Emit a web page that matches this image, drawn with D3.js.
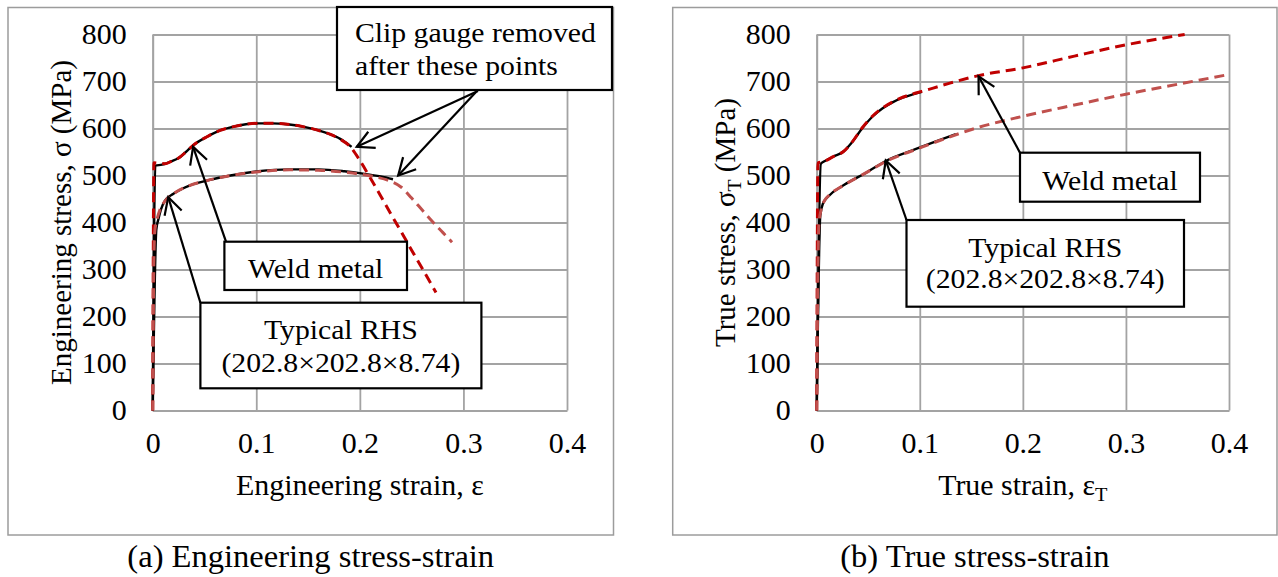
<!DOCTYPE html>
<html>
<head>
<meta charset="utf-8">
<script src="https://cdn.jsdelivr.net/npm/d3@7"></script>
<style>
  body { margin: 0; background: #fff; }
  svg { display: block; }
  text { font-family: "Liberation Serif", "Times New Roman", serif; fill: #000; }
</style>
</head>
<body>
<svg id="fig" width="1278" height="577"></svg>
<script>
// ---- axis ticks ----
const strainTicks = [0, 0.1, 0.2, 0.3, 0.4];
const strainTickLabels = ["0", "0.1", "0.2", "0.3", "0.4"];
const stressTicks = [0, 100, 200, 300, 400, 500, 600, 700, 800];
const stressTickLabels = ["0", "100", "200", "300", "400", "500", "600", "700", "800"];

// ---- engineering stress-strain [strain, stress MPa] ----
const engWeldTest = [[0,0],[0.0025,521],[0.009,523],[0.018,530],[0.025,537],[0.032,550],[0.039,564],
  [0.052,582],[0.065,596],[0.078,604],[0.09,609],[0.102,611],[0.115,611],[0.13,609],[0.145,604],
  [0.16,596],[0.171,588],[0.181,578],[0.192,561]];
const engWeldModel = [[0,0],[0.0012,527],[0.006,526],[0.012,525],[0.018,530],[0.025,537],[0.032,550],
  [0.039,564],[0.052,582],[0.065,596],[0.078,604],[0.09,609],[0.102,611],[0.115,611],[0.13,609],
  [0.145,604],[0.16,596],[0.171,588],[0.181,577],[0.19,563],[0.2,532],[0.21,495],[0.22,457],
  [0.23,418],[0.24,380],[0.25,341],[0.26,303],[0.2735,251]];
const engRhsTest = [[0,0],[0.0035,385],[0.0055,407],[0.008,428],[0.012,447],[0.02,461],[0.036,479],
  [0.052,489],[0.075,500],[0.102,509],[0.132,513],[0.16,513],[0.185,509],[0.203,504],[0.22,498],
  [0.232,492]];
const engRhsModel = [[0,0],[0.001,300],[0.002,380],[0.004,405],[0.007,427],[0.012,446],[0.02,461],
  [0.036,479],[0.052,489],[0.075,500],[0.102,508],[0.132,512],[0.16,511],[0.185,507],[0.203,502],
  [0.215,497],[0.228,489],[0.24,475],[0.25,452],[0.26,427],[0.27,402],[0.28,379],[0.289,358]];

// ---- true stress-strain [strain, stress MPa] ----
const trueWeldTest = [[0,0],[0.004,525],[0.008,531],[0.016,540],[0.026,551],[0.034,570],[0.044,600],
  [0.054,625],[0.064,643],[0.074,656],[0.084,666],[0.094,673],[0.102,678]];
const trueWeldModel = [[0,0],[0.0012,527],[0.006,529],[0.016,540],[0.026,551],[0.034,570],[0.044,601],
  [0.054,626],[0.064,644],[0.074,657],[0.084,667],[0.094,674],[0.102,679],[0.113,686],[0.13,697],
  [0.158,713],[0.2,729],[0.25,754],[0.3,778],[0.357,800]];
const trueRhsTest = [[0,0],[0.0035,415],[0.006,440],[0.012,457],[0.026,479],[0.048,506],[0.068,532],
  [0.097,557],[0.115,572],[0.135,588]];
const trueRhsModel = [[0,0],[0.0012,300],[0.002,390],[0.004,425],[0.008,448],[0.012,458],[0.026,479],
  [0.048,506],[0.068,531],[0.097,556],[0.12,575],[0.158,603],[0.2,626],[0.25,650],[0.3,673],
  [0.35,694],[0.4,715]];

const svg = d3.select("#fig");
const GRID = "#a3a3a3";
const FRAME = "#9c9c9c";
const STRETCH = 1.05;   // slightly widened serif lettering

const panels = [
  {
    frame: [8, 7.5, 613.5, 535],
    plot: [152.7, 34.5, 567, 410.5],
    xTitle: [{t: "Engineering strain, ε"}],
    yTitle: [{t: "Engineering stress, σ (MPa)"}],
    caption: "(a) Engineering stress-strain",
    series: [
      {data: engWeldTest, color: "#000", width: 2.4},
      {data: engRhsTest, color: "#000", width: 2.4},
      {data: engWeldModel, color: "#c00000", width: 3, dash: "10,6"},
      {data: engRhsModel, color: "#c0504d", width: 3, dash: "10,6"}
    ],
    notes: [
      {box: [337, 7, 612, 90], anchor: "start", tx: 355, lines: ["Clip gauge removed", "after these points"], baselines: [42, 75],
       arrows: [{tip: [0.197, 561], tail: [478, 91]}, {tip: [0.237, 500], tail: [476, 92]}]},
      {box: [224.4, 241.7, 407, 290], anchor: "middle", lines: ["Weld metal"], baselines: [278],
       arrows: [{tip: [0.039, 561], tail: [226, 241.7]}]},
      {box: [200.4, 302.7, 481.4, 388.3], anchor: "middle", lines: ["Typical RHS", "(202.8×202.8×8.74)"], baselines: [339.3, 371.7],
       arrows: [{tip: [0.015, 454], tail: [200.4, 302.7]}]}
    ]
  },
  {
    frame: [672.7, 7.5, 1277, 535],
    plot: [816.7, 34.5, 1229, 410.5],
    xTitle: [{t: "True strain, ε"}, {t: "T", sub: true}],
    yTitle: [{t: "True stress, σ"}, {t: "T", sub: true}, {t: " (MPa)", up: true}],
    caption: "(b) True stress-strain",
    series: [
      {data: trueWeldTest, color: "#000", width: 2.4},
      {data: trueRhsTest, color: "#000", width: 2.4},
      {data: trueWeldModel, color: "#c00000", width: 3, dash: "10,6"},
      {data: trueRhsModel, color: "#c0504d", width: 3, dash: "10,6"}
    ],
    notes: [
      {box: [1020, 152.7, 1200, 201.7], anchor: "middle", lines: ["Weld metal"], baselines: [190],
       arrows: [{tip: [0.157, 711], tail: [1020, 152.7]}]},
      {box: [906.5, 220, 1184, 306.7], anchor: "middle", lines: ["Typical RHS", "(202.8×202.8×8.74)"], baselines: [256.7, 288.3],
       arrows: [{tip: [0.067, 532], tail: [906.5, 220]}]}
    ]
  }
];

// text with optional subscript pieces
function addRich(sel, parts, size) {
  parts.forEach(p => {
    const ts = sel.append("tspan").text(p.t);
    if (p.sub) ts.attr("font-size", size * 0.68).attr("dy", size * 0.22);
    if (p.up) ts.attr("dy", -size * 0.22);
  });
}

// horizontal text placed at (x, y) and widened about its anchor point
function hText(g, x, y, size, anchor) {
  return g.append("text")
    .attr("transform", `translate(${x},${y}) scale(${STRETCH},1)`)
    .attr("text-anchor", anchor).attr("font-size", size);
}

panels.forEach(P => {
  const [px0, py0, px1, py1] = P.plot;
  const x = d3.scaleLinear().domain([0, 0.4]).range([px0, px1]);
  const y = d3.scaleLinear().domain([0, 800]).range([py1, py0]);
  const g = svg.append("g");

  // outer frame
  g.append("rect")
    .attr("x", P.frame[0]).attr("y", P.frame[1])
    .attr("width", P.frame[2] - P.frame[0]).attr("height", P.frame[3] - P.frame[1])
    .attr("fill", "none").attr("stroke", FRAME).attr("stroke-width", 1.5);

  // axes with full-length ticks forming the grid
  const xAxis = d3.axisBottom(x).tickValues(strainTicks)
    .tickFormat((d, i) => strainTickLabels[i])
    .tickSize(-(py1 - py0)).tickSizeOuter(0).tickPadding(22.5);
  const yAxis = d3.axisLeft(y).tickValues(stressTicks)
    .tickFormat((d, i) => stressTickLabels[i])
    .tickSize(-(px1 - px0)).tickSizeOuter(0).tickPadding(26);

  const gx = g.append("g").attr("transform", `translate(0,${py1})`).call(xAxis);
  const gy = g.append("g").attr("transform", `translate(${px0},0)`).call(yAxis);
  [gx, gy].forEach(a => {
    a.selectAll("line").attr("stroke", GRID).attr("stroke-width", 1.8);
    a.select(".domain").attr("stroke", GRID).attr("stroke-width", 1.8);
    a.selectAll("text").attr("font-size", 28.5).attr("fill", "#000")
      .style("font-family", '"Liberation Serif","Times New Roman",serif')
      .attr("transform", function () {
        const tx = +this.getAttribute("x") || 0;
        return `translate(${tx},0) scale(${STRETCH},1) translate(${-tx},0)`;
      });
  });

  // curves: measured (solid black) underneath, fitted/extended (dashed red) on top
  const line = d3.line().x(d => x(d[0])).y(d => y(d[1])).curve(d3.curveMonotoneX);
  P.series.forEach(s => {
    g.append("path").datum(s.data)
      .attr("d", line)
      .attr("fill", "none")
      .attr("stroke", s.color)
      .attr("stroke-width", s.width)
      .attr("stroke-dasharray", s.dash || null)
      .attr("stroke-linejoin", "round");
  });

  // axis titles
  addRich(hText(g, (px0 + px1) / 2, 495, 28.5, "middle"), P.xTitle, 28.5);

  const yt = g.append("text")
    .attr("transform", `translate(${px0 - 82},${(py0 + py1) / 2}) rotate(-90)`)
    .attr("text-anchor", "middle").attr("font-size", 29);
  addRich(yt, P.yTitle, 29);

  // caption under the frame
  hText(g, (P.frame[0] + P.frame[2]) / 2, 567, 31, "middle").text(P.caption);

  // callout boxes and arrows
  P.notes.forEach(n => {
    const [bx0, by0, bx1, by1] = n.box;
    n.arrows.forEach(a => {
      const tx = x(a.tip[0]), ty = y(a.tip[1]);
      const [sx, sy] = a.tail;
      const ang = Math.atan2(sy - ty, sx - tx);
      const L = 19, spread = 28 * Math.PI / 180;
      g.append("line").attr("x1", sx).attr("y1", sy).attr("x2", tx).attr("y2", ty)
        .attr("stroke", "#000").attr("stroke-width", 2.2);
      g.append("polyline")
        .attr("points", [
          [tx + L * Math.cos(ang - spread), ty + L * Math.sin(ang - spread)],
          [tx, ty],
          [tx + L * Math.cos(ang + spread), ty + L * Math.sin(ang + spread)]
        ].map(p => p.join(",")).join(" "))
        .attr("fill", "none").attr("stroke", "#000").attr("stroke-width", 2.2)
        .attr("stroke-linejoin", "miter");
    });
    g.append("rect")
      .attr("x", bx0).attr("y", by0).attr("width", bx1 - bx0).attr("height", by1 - by0)
      .attr("fill", "#fff").attr("stroke", "#000").attr("stroke-width", 2.2);
    n.lines.forEach((t, i) => {
      hText(g, n.anchor === "start" ? n.tx : (bx0 + bx1) / 2, n.baselines[i], 28.3, n.anchor).text(t);
    });
  });
});
</script>
</body>
</html>
